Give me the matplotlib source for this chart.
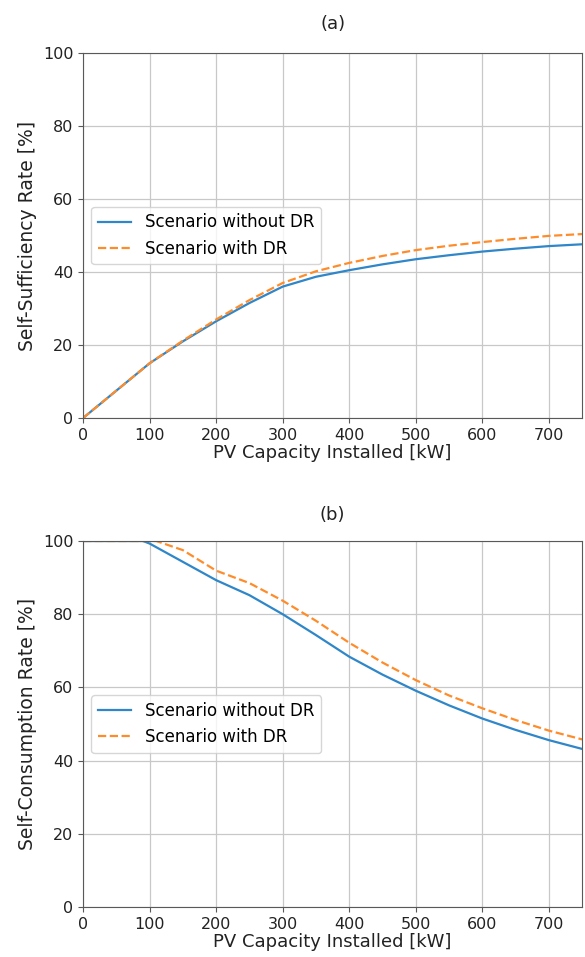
import numpy as np
import matplotlib
matplotlib.use("Agg")
import matplotlib.pyplot as plt

# data (PV capacity in kW, rates in %)
pv_a = [0, 50, 100, 150, 200, 250, 300, 350, 400, 450, 500, 550, 600, 650, 700, 750]
ssr_no_dr = [0, 7.5, 15, 21, 26.5, 31.5, 36, 38.7, 40.5, 42.1, 43.5, 44.6, 45.6, 46.4, 47.1, 47.6]
ssr_dr = [0, 7.5, 15, 21.2, 27, 32.3, 37, 40.2, 42.5, 44.4, 46, 47.2, 48.2, 49.1, 49.9, 50.4]

pv_b_no = [0, 50, 90, 100, 150, 200, 250, 300, 350, 400, 450, 500, 550, 600, 650, 700, 750]
scr_no_dr = [100, 100, 100, 99.3, 94.3, 89.3, 85.2, 80, 74.3, 68.4, 63.5, 59.1, 55.1, 51.5, 48.4, 45.6, 43.2]
pv_b_dr = [0, 50, 110, 150, 200, 250, 300, 350, 400, 450, 500, 550, 600, 650, 700, 750]
scr_dr = [100, 100, 100, 97.5, 91.9, 88.5, 83.7, 78.2, 72.2, 66.8, 62, 57.8, 54.3, 51.1, 48.2, 45.8]

labels = ["Scenario without DR", "Scenario with DR"]
titles = ["(a)", "(b)"]
ylabels = ["Self-Sufficiency Rate [%]", "Self-Consumption Rate [%]"]

fig = plt.figure(figsize=(5.85, 9.57), dpi=100)
ax1 = fig.add_axes([0.142, 0.5632, 0.853, 0.3814])
ax2 = fig.add_axes([0.142, 0.0522, 0.853, 0.3825])

panels = [
    (ax1, pv_a, ssr_no_dr, pv_a, ssr_dr, 17),
    (ax2, pv_b_no, scr_no_dr, pv_b_dr, scr_dr, 15),
]

for i, (ax, x1, y1, x2, y2, tpad) in enumerate(panels):
    ax.plot(x1, y1, color="#2f86c8", lw=1.6, label=labels[0])
    ax.plot(x2, y2, color="#ff8c2a", lw=1.6, ls="--", label=labels[1])
    ax.set_xlim(0, 750)
    ax.set_ylim(0, 100)
    ax.set_xticks(np.arange(0, 800, 100))
    ax.set_yticks(np.arange(0, 120, 20))
    ax.grid(True, color="#c8c8c8", lw=0.9)
    ax.set_axisbelow(True)
    for s in ax.spines.values():
        s.set_color("0.35")
    ax.tick_params(colors="0.35", labelcolor="#222222", labelsize=11.5)
    ax.set_xlabel("PV Capacity Installed [kW]", labelpad=1, color="#222222", fontsize=13)
    ax.set_ylabel(ylabels[i], color="#222222", fontsize=13.5, labelpad=4)
    ax.set_title(titles[i], pad=tpad, color="#222222", fontsize=13)
    ax.legend(loc="center left", fontsize=12)

fig.savefig("out.png", dpi=100)
